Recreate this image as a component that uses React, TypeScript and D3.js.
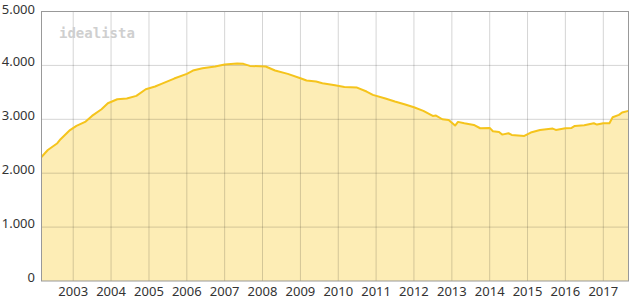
import React from "react";
import * as d3 from "d3";

const dates: string[] = [
  "2002-03","2002-05","2002-08","2002-09","2002-12",
  "2003-02","2003-05","2003-07","2003-10","2003-12",
  "2004-03","2004-06","2004-09","2004-12",
  "2005-03","2005-05","2005-09",
  "2006-01","2006-03","2006-06","2006-10",
  "2007-01","2007-05","2007-07","2007-09",
  "2008-02","2008-05","2008-09",
  "2009-01","2009-03","2009-06","2009-08","2009-12",
  "2010-03","2010-07","2010-10","2010-12",
  "2011-04","2011-07","2011-10",
  "2012-01","2012-04","2012-07","2012-08","2012-10","2012-12",
  "2013-02","2013-03","2013-05","2013-08","2013-10",
  "2014-01","2014-02","2014-04","2014-05","2014-07","2014-08","2014-12",
  "2015-02","2015-05","2015-09","2015-10",
  "2016-01","2016-03","2016-04","2016-07","2016-10","2016-11",
  "2017-01","2017-03","2017-04","2017-06","2017-07","2017-09",
];
const prices: number[] = [
  2300,2430,2556,2630,2800,
  2877,2958,3063,3187,3298,
  3372,3385,3434,3558,
  3608,3657,3756,
  3843,3905,3948,3979,
  4016,4035,4029,3991,
  3979,3905,3843,
  3762,3719,3700,3669,3632,
  3601,3589,3515,3453,
  3385,3329,3280,
  3224,3156,3063,3069,3001,2989,
  2884,2952,2927,2896,2834,
  2840,2778,2766,2716,2741,2710,2692,
  2754,2803,2828,2803,
  2834,2840,2877,2890,2927,2902,
  2927,2927,3038,3082,3125,3156,
];
const yTicks: number[] = [0, 1000, 2000, 3000, 4000, 5000];
const yTickLabels: string[] = ["0", "1.000", "2.000", "3.000", "4.000", "5.000"];
const xTickYears: number[] = [2003,2004,2005,2006,2007,2008,2009,2010,2011,2012,2013,2014,2015,2016,2017];

const W = 636, H = 301;
const M = { left: 41.5, right: 628.5, top: 11.5, bottom: 281 };

export default function App() {
  const parse = d3.timeParse("%Y-%m");
  const data = dates.map((d, i) => ({ date: parse(d) as Date, v: prices[i] }));
  const x = d3.scaleTime()
    .domain([data[0].date, data[data.length - 1].date])
    .range([M.left, M.right]);
  const y = d3.scaleLinear().domain([0, 5000]).range([M.bottom, M.top]);
  const area = d3.area<{ date: Date; v: number }>()
    .x(d => x(d.date)).y0(y(0)).y1(d => y(d.v));
  const line = d3.line<{ date: Date; v: number }>()
    .x(d => x(d.date)).y(d => y(d.v));
  const font = "'Noto Sans', 'Open Sans', sans-serif";
  return (
    <svg width={W} height={H} style={{ position: "absolute", left: 0, top: 0, background: "#fff" }}>
      <path d={area(data) || ""} fill="#fdedb5" />
      {yTicks.filter(t => t > 0 && t < 5000).map(t => (
        <line key={"h" + t} x1={M.left} x2={M.right} y1={y(t)} y2={y(t)} stroke="#000" strokeOpacity={0.17} strokeWidth={1} />
      ))}
      {xTickYears.map(yr => {
        const xp = x(new Date(yr, 0, 1));
        return <line key={"v" + yr} x1={xp} x2={xp} y1={M.top} y2={M.bottom} stroke="#000" strokeOpacity={0.17} strokeWidth={1} />;
      })}
      <path d={line(data) || ""} fill="none" stroke="#f5c41c" strokeWidth={2} strokeLinejoin="round" />
      <rect x={M.left} y={M.top} width={M.right - M.left} height={M.bottom - M.top} fill="none" stroke="#999" strokeWidth={1} />
      <text x={59} y={37.5} fontFamily="'DejaVu Sans Mono', monospace" fontSize={14} fontWeight="bold" fill="#cfcfcf">idealista</text>
      {yTicks.map((t, i) => (
        <text key={"yl" + t} x={35} y={Math.max(y(t) + 0.5, 14)} textAnchor="end" fontFamily={font} fontSize={13} fill="#333">{yTickLabels[i]}</text>
      ))}
      {xTickYears.map(yr => (
        <text key={"xl" + yr} x={x(new Date(yr, 0, 1))} y={296} textAnchor="middle" fontFamily={font} fontSize={13} fill="#333">{yr}</text>
      ))}
    </svg>
  );
}
